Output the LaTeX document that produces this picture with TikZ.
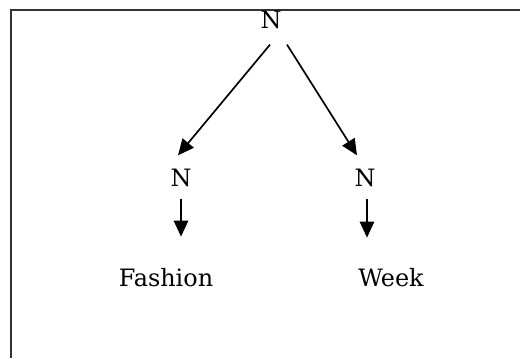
\documentclass[tikz,border=0pt]{standalone}
\usepackage{fontspec}
\setmainfont{DejaVu Serif}
\usetikzlibrary{arrows.meta}

\begin{document}
\begin{tikzpicture}[x = 0.025cm, y = -0.025cm,
    every node/.style = {inner sep = 0pt, font = \fontsize{17pt}{20pt}\selectfont},
    arr/.style = {line width = 1.2pt, -{Triangle[length = 0.4cm, width = 0.36cm]}}]
    \useasboundingbox (0, 0) rectangle (520, 358);
    \draw [line width = 1.1pt, black!80] (520, 10) -- (11, 10) -- (11, 358);
    \node [anchor = base] (top) at (271, 28) {N};
    \node [anchor = base] (left) at (181, 186) {N};
    \node [anchor = base] (right) at (365, 186) {N};
    \node [anchor = base] (fashion) at (166, 286) {Fashion};
    \node [anchor = base] (week) at (391, 286) {Week};
    \draw [arr] ([shift = {(-1, 16)}]top.south) -- ([shift = {(-3, -13)}]left.north);
    \draw [arr] ([shift = {(16, 16)}]top.south) -- ([shift = {(-8, -13)}]right.north);
    \draw [arr] ([shift = {(0, 12)}]left.south) -- ([shift = {(0, 50)}]left.south);
    \draw [arr] ([shift = {(2, 12)}]right.south) -- ([shift = {(2, 51)}]right.south);
\end{tikzpicture}
\end{document}
